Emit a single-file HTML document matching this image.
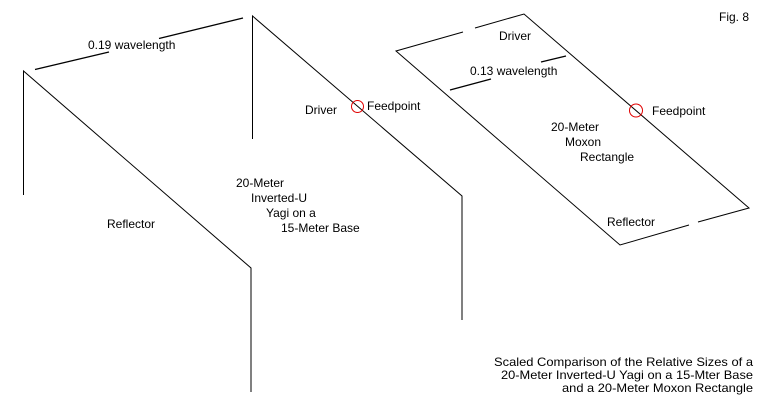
<!DOCTYPE html>
<html><head><meta charset="utf-8"><style>
html,body{margin:0;padding:0;background:#fff;}
svg{display:block;}
text{font-family:"Liberation Sans",Arial,sans-serif;font-size:12px;fill:#000;}
</style></head><body>
<svg width="770" height="410" viewBox="0 0 770 410" xmlns="http://www.w3.org/2000/svg">
<g stroke="#000" stroke-width="1" fill="none">
<!-- Reflector inverted U -->
<polyline points="23.5,195 23.5,71 251,268 251,392"/>
<!-- Driver inverted U -->
<polyline points="252.5,139 252.5,16 462,196 462,320"/>
<!-- wavelength dims -->
<line x1="35" y1="69.5" x2="109" y2="52" stroke-width="1.3"/>
<line x1="159" y1="38.5" x2="243" y2="18" stroke-width="1.3"/>
<!-- Moxon rectangle -->
<polyline points="463,32 396,51 620,245 689,225"/>
<polyline points="475,28 524,14 749,208 698,222"/>
<line x1="450" y1="90" x2="491" y2="79" stroke-width="1.3"/>
<line x1="541" y1="62" x2="566" y2="56" stroke-width="1.3"/>
</g>
<circle cx="357.5" cy="106.5" r="6" stroke="#e00000" stroke-width="1" fill="none"/>
<circle cx="636" cy="110.5" r="6.5" stroke="#e00000" stroke-width="1" fill="none"/>

<text x="88" y="49">0.19 wavelength</text>
<text x="305" y="114">Driver</text>
<text x="367" y="110">Feedpoint</text>
<text x="236" y="187">20-Meter</text>
<text x="251" y="202">Inverted-U</text>
<text x="266" y="217">Yagi on a</text>
<text x="281" y="232">15-Meter Base</text>
<text x="107" y="228">Reflector</text>

<text x="719" y="21">Fig. 8</text>
<text x="499" y="40">Driver</text>
<text x="470" y="75">0.13 wavelength</text>
<text x="652" y="115">Feedpoint</text>
<text x="551" y="131">20-Meter</text>
<text x="565" y="146">Moxon</text>
<text x="580" y="161">Rectangle</text>
<text x="607" y="226">Reflector</text>

<text x="494" y="366" textLength="259" lengthAdjust="spacingAndGlyphs">Scaled Comparison of the Relative Sizes of a</text>
<text x="501" y="379" textLength="252" lengthAdjust="spacingAndGlyphs">20-Meter Inverted-U Yagi on a 15-Mter Base</text>
<text x="562" y="392" textLength="191" lengthAdjust="spacingAndGlyphs">and a 20-Meter Moxon Rectangle</text>
</svg>
</body></html>
